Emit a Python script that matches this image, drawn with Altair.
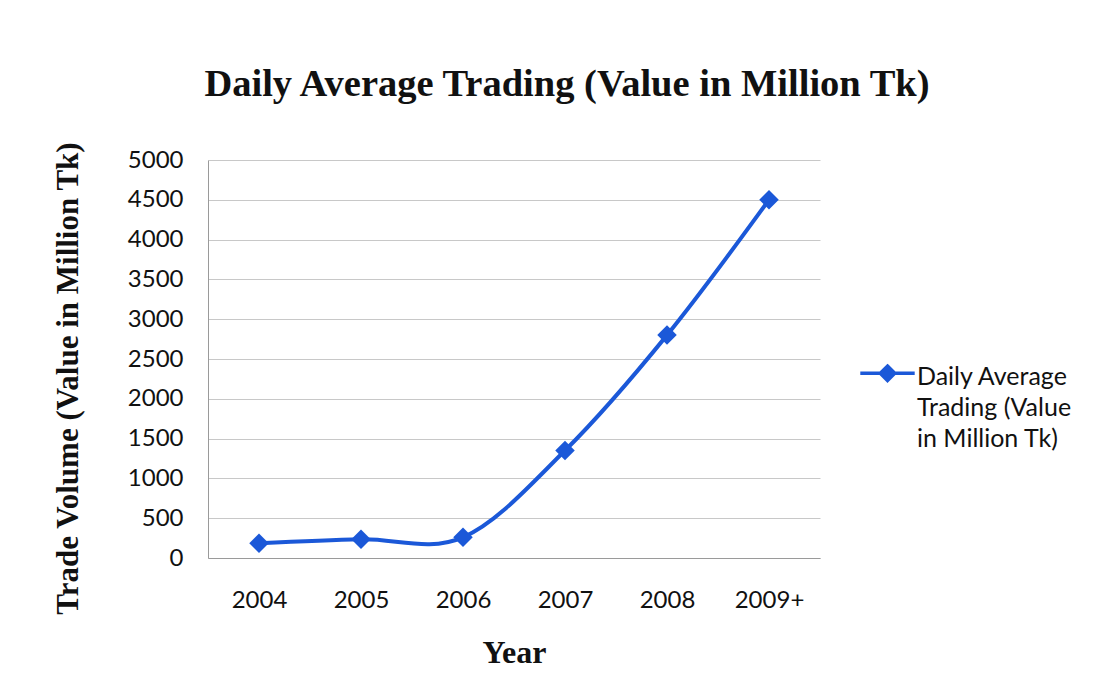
import altair as alt
import pandas as pd

years = ["2004", "2005", "2006", "2007", "2008", "2009+"]
values = [185, 235, 260, 1350, 2800, 4500]
series_name = "Daily Average Trading (Value in Million Tk)"
y_ticks = [0, 500, 1000, 1500, 2000, 2500, 3000, 3500, 4000, 4500, 5000]

df = pd.DataFrame({"Year": years, "Value": values, "Series": [series_name] * len(years)})

BLUE = "#1b58d8"
SERIF = "Liberation Serif"
SANS = "Lato"

diamond_line = "M-3.4,-1.4L3.4,-1.4M0,-2.3L0.9,-1.4L0,-0.5L-0.9,-1.4Z"

x_enc = alt.X(
    "Year:N",
    sort=years,
    scale=alt.Scale(paddingInner=0, paddingOuter=0),
    axis=alt.Axis(
        title="Year",
        titleFont=SERIF,
        titleFontSize=32,
        titleFontWeight="bold",
        titleColor="#111111",
        titlePadding=25,
        labelFont=SANS,
        labelFontSize=24,
        labelColor="#111111",
        labelAngle=0,
        labelPadding=30,
        ticks=False,
        domainColor="#9a9a9a",
        grid=False,
    ),
)
y_enc = alt.Y(
    "Value:Q",
    scale=alt.Scale(domain=[0, 5000], nice=False),
    axis=alt.Axis(
        title="Trade Volume (Value in Million Tk)",
        titleFont=SERIF,
        titleFontSize=31,
        titleFontWeight="bold",
        titleColor="#111111",
        titleAngle=-90,
        titleAlign="center",
        titleBaseline="middle",
        titleX=-140,
        titleY=218,
        values=y_ticks,
        format="d",
        labelOverlap=False,
        labelFont=SANS,
        labelFontSize=24,
        labelColor="#111111",
        labelPadding=25,
        ticks=False,
        domainColor="#9a9a9a",
        gridColor="#c8c8c8",
        gridWidth=1,
    ),
)
color_enc = alt.Color(
    "Series:N",
    scale=alt.Scale(range=[BLUE]),
    legend=alt.Legend(
        title=None,
        orient="none",
        legendX=667,
        legendY=212,
        symbolType=diamond_line,
        symbolSize=256,
        symbolStrokeWidth=3.5,
        symbolFillColor=BLUE,
        symbolStrokeColor=BLUE,
        labelFont=SANS,
        labelFontSize=25,
        labelColor="#111111",
        labelBaseline="alphabetic",
        labelOffset=17,
        labelExpr="['Daily Average', 'Trading (Value', 'in Million Tk)']",
        labelLimit=300,
    ),
)

chart = (
    alt.Chart(df)
    .mark_line(
        interpolate="cardinal",
        strokeWidth=4,
        color=BLUE,
        point=alt.OverlayMarkDef(shape="diamond", size=380, filled=True, opacity=1, color=BLUE),
    )
    .encode(x=x_enc, y=y_enc, color=color_enc)
    .properties(
        width=612,
        height=398,
        title=alt.TitleParams(
            text="Daily Average Trading (Value in Million Tk)",
            font=SERIF,
            fontSize=38.5,
            fontWeight="bold",
            color="#111111",
            anchor="middle",
            dx=53,
            offset=37,
        ),
        padding={"left": 208, "top": 160, "right": 285, "bottom": 127},
        autosize=alt.AutoSizeParams(type="none"),
        background="white",
    )
    .configure(
        style={"guide-label": {"lineHeight": 31}},
        view=alt.ViewConfig(stroke=None),
    )
)

chart.save("out.html", embed_options={"renderer": "svg", "actions": False})
